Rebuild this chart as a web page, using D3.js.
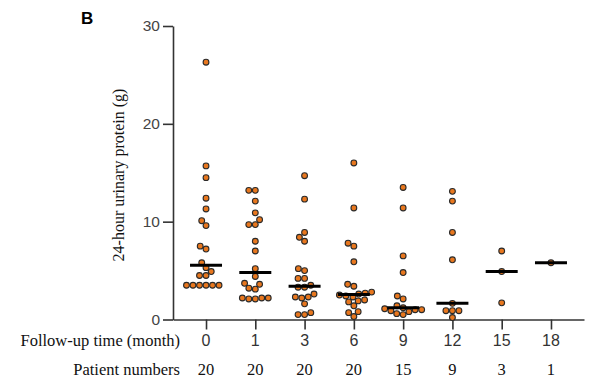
<!DOCTYPE html>
<html>
<head>
<meta charset="utf-8">
<script src="https://cdn.jsdelivr.net/npm/d3@7"></script>
<style>
html,body{margin:0;padding:0;background:#fff;}
svg{display:block;}
</style>
</head>
<body>
<svg id="chart" width="613" height="384"></svg>
<script>
// ---- data ----
const months = ["0", "1", "3", "6", "9", "12", "15", "18"];
const patientNumbers = ["20", "20", "20", "20", "15", "9", "3", "1"];
const yTicks = [0, 10, 20, 30];
const m0 = [26.3, 15.7, 14.5, 12.4, 11.3, 10.1, 9.6, 7.5, 7.2, 5.8, 5.3, 4.9, 4.5, 4.5, 3.5, 3.5, 3.5, 3.5, 3.5, 3.5];
const m1 = [13.2, 13.2, 12.1, 10.9, 10.2, 9.7, 9.7, 8.0, 7.0, 5.2, 4.4, 3.7, 3.6, 3.2, 3.1, 2.2, 2.2, 2.2, 2.1, 2.1];
const m3 = [14.7, 12.3, 8.9, 8.4, 8.0, 5.2, 5.0, 4.2, 4.2, 3.5, 3.3, 3.3, 2.6, 2.3, 2.3, 2.2, 1.6, 0.7, 0.5, 0.5];
const m6 = [16.0, 11.4, 7.8, 7.5, 5.9, 3.6, 3.4, 2.8, 2.7, 2.6, 2.5, 2.4, 2.3, 2.0, 1.9, 1.8, 1.4, 0.8, 0.7, 0.3];
const m9 = [13.5, 11.4, 6.5, 4.8, 2.4, 2.1, 1.4, 1.2, 1.1, 1.0, 1.0, 0.9, 0.8, 0.6, 0.5];
const m12 = [13.1, 12.1, 8.9, 6.1, 1.65, 0.9, 0.9, 0.9, 0.2];
const m15 = [7.0, 4.9, 1.7];
const m18 = [5.8];
const seriesValues = [m0, m1, m3, m6, m9, m12, m15, m18];

// ---- layout ----
const svg = d3.select("#chart");
const axisColor = "#333";
const sans = "Liberation Sans, Arial, sans-serif";
const serif = "Liberation Serif, Times New Roman, serif";
const y = d3.scaleLinear().domain([0, 30]).range([319.5, 26]);
const x = d3.scalePoint().domain(months).range([173, 584]).padding(0.67);

// y axis
const yAxis = d3.axisLeft(y).tickValues(yTicks).tickSize(10).tickPadding(3).tickSizeOuter(0);
const gy = svg.append("g").attr("transform", "translate(173,0)").call(yAxis);
gy.select(".domain").attr("stroke", axisColor).attr("stroke-width", 1.6);
gy.selectAll(".tick line").attr("stroke", axisColor).attr("stroke-width", 1.6);
gy.selectAll(".tick text").attr("fill", "#444").attr("font-family", sans).attr("font-size", 15.5);

// x axis
const xAxis = d3.axisBottom(x).tickSize(10).tickSizeOuter(0).tickFormat("");
const gx = svg.append("g").attr("transform", "translate(0,319.5)").call(xAxis);
gx.select(".domain").attr("stroke", axisColor).attr("stroke-width", 1.6);
gx.selectAll(".tick line").attr("stroke", axisColor).attr("stroke-width", 1.6);

// month labels (sans)
svg.append("g").selectAll("text").data(months).join("text")
  .attr("x", d => x(d)).attr("y", 346)
  .attr("text-anchor", "middle")
  .attr("font-family", sans).attr("font-size", 16).attr("fill", "#333")
  .text(d => d);
// patient numbers (serif)
svg.append("g").selectAll("text").data(patientNumbers).join("text")
  .attr("x", (d, i) => x(months[i])).attr("y", 375)
  .attr("text-anchor", "middle")
  .attr("font-family", serif).attr("font-size", 16.5).attr("fill", "#111")
  .text(d => d);

svg.append("text").attr("x", 180).attr("y", 346).attr("text-anchor", "end")
  .attr("font-family", serif).attr("font-size", 16.5).attr("fill", "#111")
  .text("Follow-up time (month)");
svg.append("text").attr("x", 180).attr("y", 375).attr("text-anchor", "end")
  .attr("font-family", serif).attr("font-size", 16.5).attr("fill", "#111")
  .text("Patient numbers");

// y title
svg.append("text").attr("transform", "translate(124,175) rotate(-90)").attr("text-anchor", "middle")
  .attr("font-family", serif).attr("font-size", 16).attr("fill", "#111")
  .text("24-hour urinary protein (g)");

// panel letter
svg.append("text").attr("x", 81).attr("y", 24)
  .attr("font-family", sans).attr("font-weight", "bold").attr("font-size", 17).attr("fill", "#000")
  .text("B");

// ---- beeswarm ----
const R = 2.9, D = 2 * R + 0.7;
function swarm(vals) {
  const pts = vals.map(v => ({v, py: y(v)})).sort((a, b) => b.py - a.py);
  const placed = [];
  pts.forEach(p => {
    const cands = [0];
    placed.forEach(q => {
      const dy = Math.abs(q.py - p.py);
      if (dy < D) {
        const dx = Math.sqrt(D * D - dy * dy);
        cands.push(q.dx + dx + 0.01, q.dx - dx - 0.01);
      }
    });
    cands.sort((a, b) => Math.abs(a) - Math.abs(b) || a - b);
    for (const c of cands) {
      const ok = placed.every(q => (q.dx - c) ** 2 + (q.py - p.py) ** 2 >= D * D - 0.001);
      if (ok) { p.dx = c; break; }
    }
    placed.push(p);
  });
  return placed;
}

const groups = svg.append("g");
seriesValues.forEach((vals, i) => {
  const cx = x(months[i]);
  const pts = swarm(vals);
  groups.append("g").selectAll("circle").data(pts).join("circle")
    .attr("cx", d => cx + d.dx).attr("cy", d => d.py).attr("r", R)
    .attr("fill", "#E8771E").attr("stroke", "#2a2a2a").attr("stroke-width", 1.1);
  const med = d3.median(vals);
  groups.append("line")
    .attr("x1", cx - 16).attr("x2", cx + 16)
    .attr("y1", y(med)).attr("y2", y(med))
    .attr("stroke", "#000").attr("stroke-width", 3);
});
</script>
</body>
</html>
